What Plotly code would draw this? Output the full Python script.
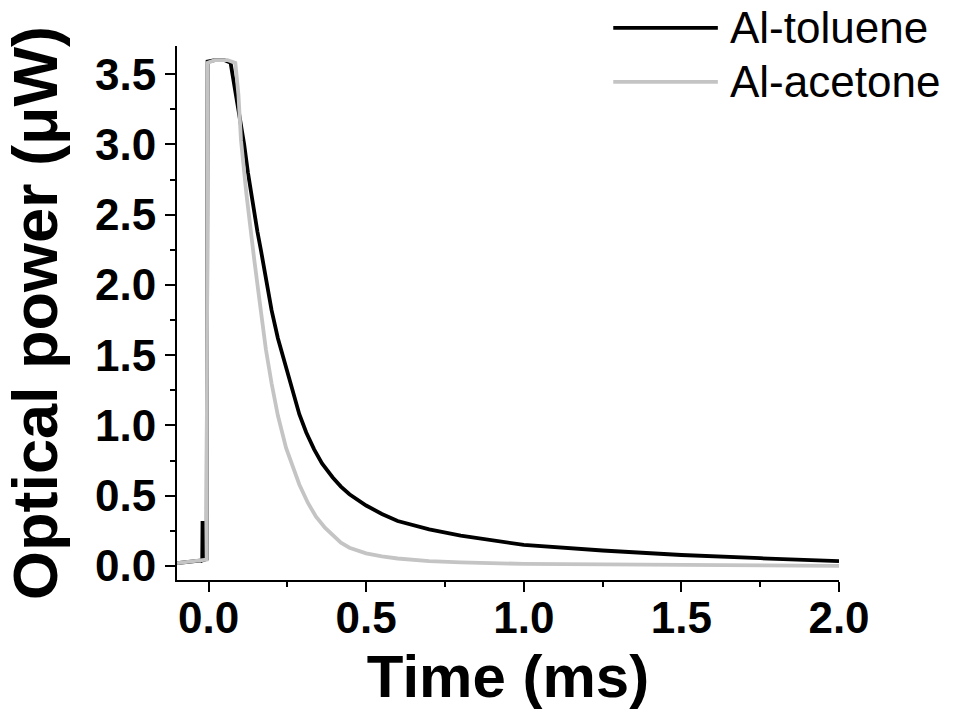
import plotly.graph_objects as go

# ---- data ----
toluene_t = [-0.10, -0.06, -0.03, -0.020, -0.019, -0.018, -0.006, -0.003, 0.02, 0.05, 0.07,
             0.08, 0.09, 0.10, 0.113, 0.125, 0.14, 0.155, 0.166, 0.18, 0.20, 0.22, 0.235,
             0.26, 0.288, 0.31, 0.335, 0.36, 0.394, 0.42, 0.447, 0.50, 0.55, 0.60, 0.70,
             0.80, 0.92, 1.00, 1.25, 1.50, 1.75, 2.00]
toluene_p = [0.02, 0.03, 0.035, 0.04, 0.32, 0.04, 0.05, 3.59, 3.60, 3.60, 3.58,
             3.45, 3.32, 3.18, 3.00, 2.80, 2.57, 2.38, 2.25, 2.06, 1.82, 1.62, 1.50,
             1.28, 1.08, 0.95, 0.83, 0.73, 0.63, 0.565, 0.51, 0.43, 0.37, 0.32, 0.26,
             0.215, 0.175, 0.15, 0.11, 0.078, 0.055, 0.035]

acetone_t = [-0.10, -0.06, -0.03, -0.006, -0.003, 0.02, 0.06, 0.085, 0.095, 0.103,
             0.12, 0.135, 0.145, 0.16, 0.172, 0.182, 0.20, 0.22, 0.246, 0.27, 0.288,
             0.315, 0.341, 0.37, 0.394, 0.42, 0.447, 0.50, 0.55, 0.60, 0.70, 0.80, 1.00,
             1.50, 2.00]
acetone_p = [0.02, 0.03, 0.035, 0.045, 3.58, 3.60, 3.60, 3.58, 3.35, 3.03,
             2.65, 2.34, 2.18, 1.92, 1.70, 1.54, 1.30, 1.07, 0.84, 0.68, 0.58,
             0.45, 0.35, 0.27, 0.215, 0.165, 0.13, 0.09, 0.068, 0.053, 0.035, 0.025, 0.015,
             0.008, 0.0]

series_names = ["Al-toluene", "Al-acetone"]
series_colors = ["#000000", "#c4c4c4"]

x_ticks = [0.0, 0.5, 1.0, 1.5, 2.0]
y_ticks = [0.0, 0.5, 1.0, 1.5, 2.0, 2.5, 3.0, 3.5]

FONT = "Liberation Sans, Arial, sans-serif"

fig = go.Figure()
fig.add_trace(go.Scatter(x=toluene_t, y=toluene_p, mode="lines", name=series_names[0],
                         line=dict(color=series_colors[0], width=3.8), showlegend=False))
fig.add_trace(go.Scatter(x=acetone_t, y=acetone_p, mode="lines", name=series_names[1],
                         line=dict(color=series_colors[1], width=3.8), showlegend=False))

axis_common = dict(
    showline=True, linecolor="black", linewidth=2, mirror=False,
    showgrid=False, zeroline=False,
    ticks="outside", ticklen=10, tickwidth=2, tickcolor="black",
    tickfont=dict(family=FONT, size=44, color="black", weight="bold"),
)

fig.update_xaxes(
    range=[-0.1, 2.0], tickvals=x_ticks, ticktext=[f"{v:.1f}" for v in x_ticks],
    ticklabelstandoff=-12,
    minor=dict(ticks="outside", dtick=0.25, tick0=0, ticklen=5, tickwidth=2, tickcolor="black"),
    title=dict(text="Time (ms)", font=dict(family=FONT, size=60, color="black", weight="bold"),
               standoff=14),
    **axis_common,
)
fig.update_yaxes(
    range=[-0.1, 3.7], tickvals=y_ticks, ticktext=[f"{v:.1f}" for v in y_ticks],
    minor=dict(ticks="outside", dtick=0.25, tick0=0, ticklen=5, tickwidth=2, tickcolor="black"),
    title=dict(text="Optical power (μW)", font=dict(family=FONT, size=63, color="black", weight="bold"),
               standoff=26),
    **axis_common,
)

# custom legend (long line samples as in the reference)
legend_rows = [1.034, 0.933]
for name, color, yy in zip(series_names, series_colors, legend_rows):
    fig.add_shape(type="line", xref="paper", yref="paper", x0=0.659, x1=0.817, y0=yy, y1=yy,
                  line=dict(color=color, width=3.8))
    fig.add_annotation(text=name, xref="paper", yref="paper", x=0.832, y=yy,
                       xanchor="left", yanchor="middle", showarrow=False,
                       font=dict(family=FONT, size=44, color="black"))

fig.update_layout(
    width=953, height=721,
    margin=dict(l=177, r=114, t=46, b=141, autoexpand=False),
    paper_bgcolor="white", plot_bgcolor="white",
    showlegend=False,
)

fig.write_html("out.html")
